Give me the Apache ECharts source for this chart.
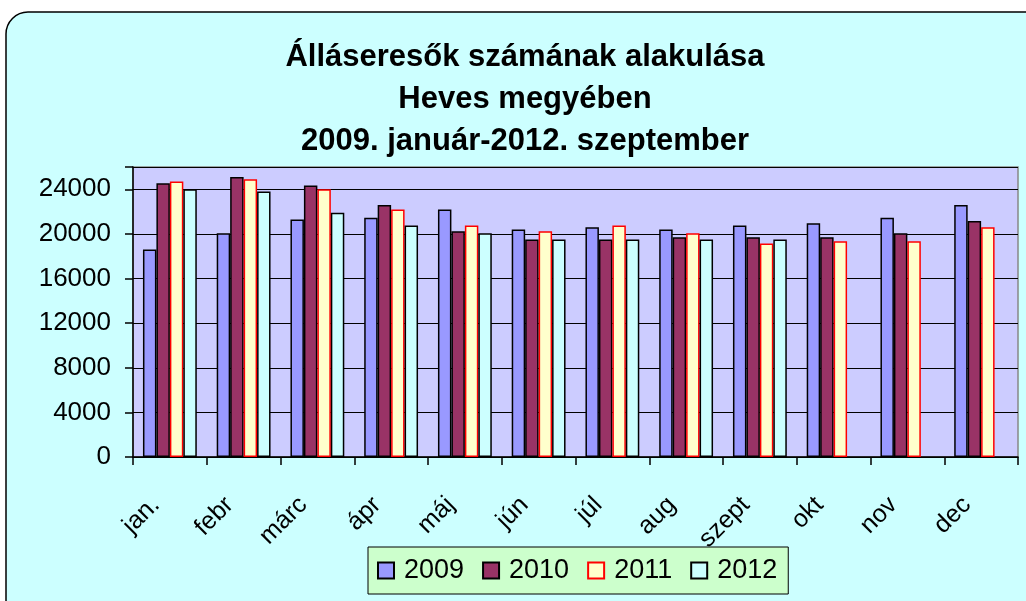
<!DOCTYPE html>
<html><head><meta charset="utf-8">
<script src="https://cdn.jsdelivr.net/npm/echarts@6/dist/echarts.min.js"></script>
<style>html,body{margin:0;padding:0;background:#fff}#c{width:1026px;height:601px}</style>
</head><body><div id="c"></div>
<script>
const categories = ['jan.','febr','márc','ápr','máj','jún','júl','aug','szept','okt','nov','dec'];
const years = ['2009','2010','2011','2012'];
const v2009 = [18600,20050,21300,21450,22200,20400,20600,20400,20750,20950,21450,22600];
const v2010 = [24550,25100,24350,22600,20250,19500,19500,19700,19700,19700,20050,21150];
const v2011 = [24700,24900,24000,22200,20750,20250,20750,20050,19150,19350,19350,20600];
const v2012 = [24000,23800,21900,20750,20050,19500,19500,19500,19500,null,null,null];
const yTicks = [0,4000,8000,12000,16000,20000,24000];

const seriesData = [v2009, v2010, v2011, v2012];
const fills = ['#9999FF','#993366','#FFFFCC','#CCFFFF'];
const strokes = ['#000000','#000000','#FF0000','#000000'];

const chart = echarts.init(document.getElementById('c'));
chart.setOption({
  animation: false,
  backgroundColor: '#ffffff',
  graphic: [{
    type: 'rect', z: -10,
    shape: {x: 6, y: 12, width: 1040, height: 620, r: 22},
    style: {fill: '#CCFFFF', stroke: '#000', lineWidth: 1.5}
  }],
  title: {
    text: 'Álláseresők számának alakulása\nHeves megyében\n2009. január-2012. szeptember',
    left: 520, top: 31, textAlign: 'center',
    textStyle: {fontFamily: 'Liberation Sans', fontWeight: 'bold', fontSize: 31, lineHeight: 42, color: '#000'}
  },
  legend: {
    data: years, icon: 'rect',
    left: 368, top: 547,
    itemWidth: 16, itemHeight: 16, itemGap: 18,
    padding: [10, 11, 10, 9],
    backgroundColor: '#CCFFCC', borderColor: '#000', borderWidth: 1,
    textStyle: {fontFamily: 'Liberation Sans', fontSize: 27, color: '#000', padding: [0, 0, 0, 5]}
  },
  grid: {
    left: 133, top: 167, width: 885, height: 290,
    show: true, backgroundColor: '#CCCCFF', borderColor: '#888', borderWidth: 1.5
  },
  xAxis: {
    type: 'category', data: categories,
    axisLine: {lineStyle: {color: '#000', width: 1.5}},
    axisTick: {show: true, length: 8, lineStyle: {color: '#000', width: 1.5}},
    axisLabel: {rotate: 45, fontFamily: 'Liberation Sans', fontSize: 25, color: '#000', margin: 30,
      padding: [0, 20, 0, 0]}
  },
  yAxis: {
    type: 'value', min: 0, max: 26000, interval: 4000,
    axisLine: {show: true, lineStyle: {color: '#000', width: 1.5}},
    axisTick: {show: true, length: 8, lineStyle: {color: '#000', width: 1.5}},
    axisLabel: {fontFamily: 'Liberation Sans', fontSize: 26, color: '#000', margin: 22,
      formatter: v => yTicks.includes(v) ? String(v) : ''},
    splitLine: {lineStyle: {color: '#000', width: 1.2}}
  },
  series: years.map((y, i) => ({
    name: y, type: 'bar', data: seriesData[i],
    barGap: '0%', barCategoryGap: '27%',
    itemStyle: {color: fills[i], borderColor: strokes[i], borderWidth: 1.5}
  }))
});
</script></body></html>
